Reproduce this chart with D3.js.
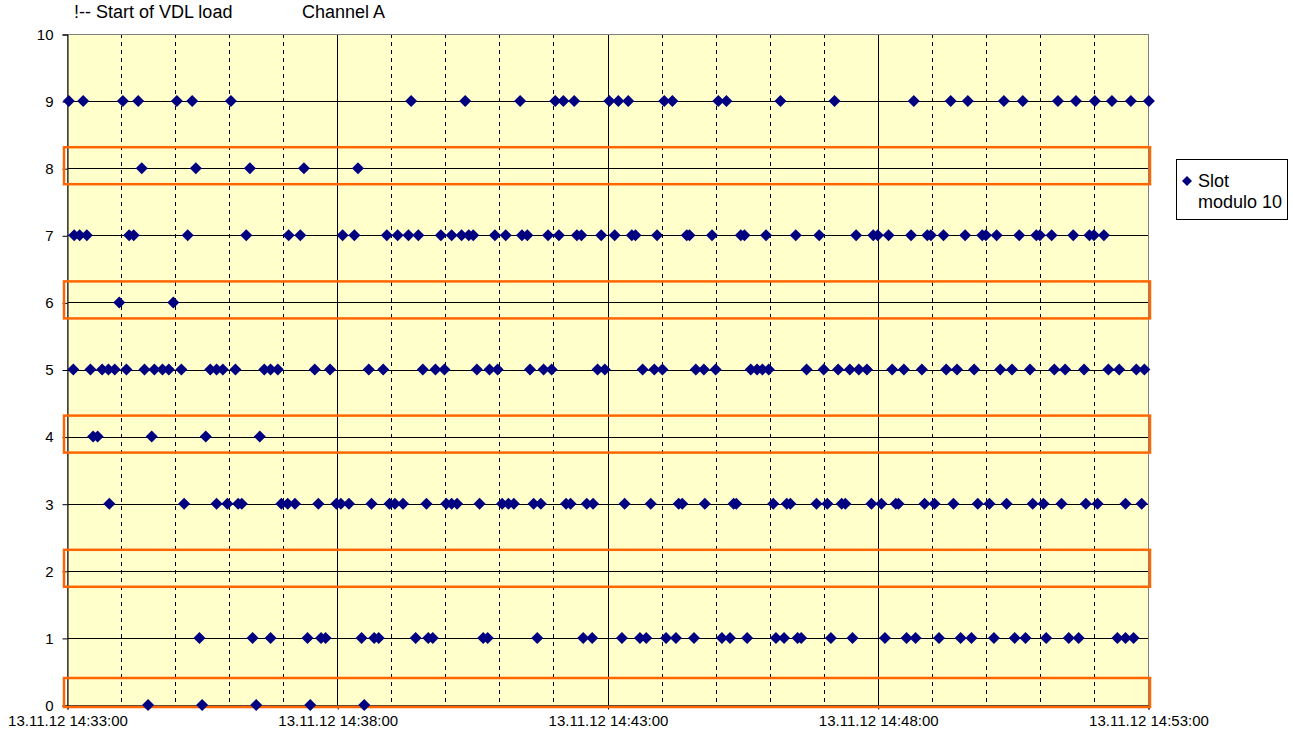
<!DOCTYPE html>
<html>
<head>
<meta charset="utf-8">
<script src="https://cdn.jsdelivr.net/npm/d3@7"></script>
<style>
  body { margin: 0; background: #fff; }
  text { font-family: "Liberation Sans", Arial, sans-serif; }
</style>
</head>
<body>
<div id="chart"></div>
<script>
// slot modulo 10 -> times (13.11.12) where that slot was used
const slot9 = ["14:33:02","14:33:18","14:34:02","14:34:19","14:35:02","14:35:19","14:36:02","14:39:22","14:40:22","14:41:23","14:42:02","14:42:11","14:42:23","14:43:02","14:43:12","14:43:23","14:44:03","14:44:12","14:45:03","14:45:12","14:46:12","14:47:12","14:48:40","14:49:21","14:49:40","14:50:20","14:50:41","14:51:20","14:51:40","14:52:01","14:52:20","14:52:41","14:53:01"];
const slot8 = ["14:34:23","14:35:23","14:36:23","14:37:23","14:38:23"];
const slot7 = ["14:33:08","14:33:14","14:33:22","14:34:09","14:34:14","14:35:14","14:36:19","14:37:06","14:37:19","14:38:06","14:38:19","14:38:55","14:39:07","14:39:19","14:39:30","14:39:55","14:40:07","14:40:18","14:40:26","14:40:31","14:40:55","14:41:07","14:41:25","14:41:31","14:41:54","14:42:06","14:42:26","14:42:31","14:42:53","14:43:08","14:43:27","14:43:31","14:43:55","14:44:28","14:44:31","14:44:56","14:45:28","14:45:32","14:45:56","14:46:29","14:46:55","14:47:36","14:47:55","14:48:00","14:48:12","14:48:37","14:48:55","14:48:59","14:49:13","14:49:37","14:49:56","14:50:00","14:50:12","14:50:37","14:50:56","14:51:00","14:51:13","14:51:37","14:51:55","14:52:00","14:52:11"];
const slot6 = ["14:33:58","14:34:58"];
const slot5 = ["14:33:07","14:33:26","14:33:39","14:33:46","14:33:53","14:34:06","14:34:26","14:34:37","14:34:46","14:34:53","14:35:07","14:35:39","14:35:46","14:35:53","14:36:07","14:36:39","14:36:46","14:36:54","14:37:35","14:37:52","14:38:35","14:38:51","14:39:35","14:39:49","14:39:59","14:40:35","14:40:49","14:40:58","14:41:34","14:41:49","14:41:58","14:42:49","14:42:57","14:43:39","14:43:52","14:44:01","14:44:38","14:44:47","14:45:00","14:45:39","14:45:46","14:45:52","14:45:59","14:46:41","14:47:00","14:47:16","14:47:29","14:47:39","14:47:48","14:48:16","14:48:29","14:48:49","14:49:16","14:49:28","14:49:47","14:50:16","14:50:29","14:50:49","14:51:16","14:51:28","14:51:49","14:52:16","14:52:28","14:52:47","14:52:56"];
const slot4 = ["14:33:29","14:33:34","14:34:34","14:35:34","14:36:34"];
const slot3 = ["14:33:47","14:35:10","14:35:46","14:35:58","14:36:10","14:36:14","14:36:58","14:37:05","14:37:13","14:37:39","14:37:59","14:38:04","14:38:13","14:38:38","14:38:58","14:39:04","14:39:13","14:39:39","14:40:01","14:40:07","14:40:13","14:40:38","14:41:03","14:41:10","14:41:16","14:41:38","14:41:46","14:42:14","14:42:19","14:42:37","14:42:44","14:43:19","14:43:48","14:44:19","14:44:23","14:44:48","14:45:20","14:45:23","14:46:04","14:46:19","14:46:23","14:46:52","14:47:04","14:47:20","14:47:24","14:47:53","14:48:04","14:48:20","14:48:23","14:48:52","14:49:03","14:49:24","14:49:51","14:50:04","14:50:23","14:50:52","14:51:04","14:51:24","14:51:51","14:52:04","14:52:35","14:52:53"];
const slot2 = [];
const slot1 = ["14:35:27","14:36:26","14:36:46","14:37:27","14:37:42","14:37:47","14:38:27","14:38:41","14:38:46","14:39:27","14:39:41","14:39:46","14:40:42","14:40:47","14:41:42","14:42:33","14:42:43","14:43:16","14:43:36","14:43:43","14:44:05","14:44:16","14:44:36","14:45:07","14:45:16","14:45:35","14:46:07","14:46:16","14:46:31","14:46:35","14:47:08","14:47:32","14:48:08","14:48:32","14:48:42","14:49:08","14:49:32","14:49:44","14:50:09","14:50:32","14:50:44","14:51:07","14:51:32","14:51:43","14:52:26","14:52:35","14:52:44"];
const slot0 = ["14:34:30","14:35:30","14:36:30","14:37:30","14:38:30"];

const slotSeries = [slot0, slot1, slot2, slot3, slot4, slot5, slot6, slot7, slot8, slot9];
const markedSlots = [0, 2, 4, 6, 8];
const xStart = "14:33:00", xEnd = "14:53:00";
const xLabelEvery = 5; // minutes
const yTicks = [0, 1, 2, 3, 4, 5, 6, 7, 8, 9, 10];
const day = "2012-11-13";
const titleText = "!-- Start of VDL load";
const channelText = "Channel A";
const legendLines = ["Slot", "modulo 10"];

const W = 1293, H = 738;
const plot = {left: 67, top: 34, right: 1148, bottom: 705};

const parse = d3.timeParse("%Y-%m-%d %H:%M:%S");
const t = s => parse(day + " " + s);
const fmt = d3.timeFormat("%d.%m.%y %H:%M:%S");

const x = d3.scaleTime().domain([t(xStart), t(xEnd)]).range([plot.left, plot.right]);
const y = d3.scaleLinear().domain([0, 10]).range([plot.bottom, plot.top]);

const points = [];
slotSeries.forEach((arr, slot) => arr.forEach(s => points.push({time: t(s), slot})));

const svg = d3.select("#chart").append("svg")
  .attr("width", W).attr("height", H);

svg.append("rect").attr("width", W).attr("height", H).attr("fill", "#fff");

// plot background
svg.append("rect")
  .attr("x", plot.left).attr("y", plot.top)
  .attr("width", plot.right - plot.left).attr("height", plot.bottom - plot.top)
  .attr("fill", "#FFFFCC");

// vertical grid: every minute dashed, every 5 minutes (from start) solid
const nMin = (t(xEnd) - t(xStart)) / 60000;
const minuteIdx = d3.range(1, nMin);
svg.append("g").selectAll("line")
  .data(minuteIdx)
  .join("line")
  .attr("x1", d => Math.round(x(d3.timeMinute.offset(t(xStart), d))) + 0.5)
  .attr("x2", d => Math.round(x(d3.timeMinute.offset(t(xStart), d))) + 0.5)
  .attr("y1", plot.top).attr("y2", plot.bottom)
  .attr("stroke", "#000")
  .attr("stroke-width", 1)
  .attr("stroke-dasharray", d => d % xLabelEvery === 0 ? null : "4,4");

// horizontal grid
svg.append("g").selectAll("line")
  .data(yTicks.filter(v => v > 0 && v < 10))
  .join("line")
  .attr("x1", plot.left).attr("x2", plot.right)
  .attr("y1", d => Math.round(y(d)) + 0.5).attr("y2", d => Math.round(y(d)) + 0.5)
  .attr("stroke", "#000").attr("stroke-width", 1);

// plot border
svg.append("rect")
  .attr("x", plot.left + 0.5).attr("y", plot.top + 0.5)
  .attr("width", plot.right - plot.left).attr("height", plot.bottom - plot.top)
  .attr("fill", "none").attr("stroke", "#808080").attr("stroke-width", 1);

// y axis
const yAxis = d3.axisLeft(y).tickValues(yTicks).tickSize(5).tickPadding(9).tickFormat(d3.format("d"));
const gy = svg.append("g").attr("transform", `translate(${plot.left + 0.5},0.5)`).call(yAxis);
gy.select(".domain").attr("stroke", "#000");
gy.selectAll(".tick line").attr("stroke", "#000");
gy.selectAll(".tick text").attr("font-size", 15).attr("fill", "#000")
  .attr("font-family", "Liberation Sans, Arial, sans-serif");

// x axis
const xTickVals = d3.range(0, nMin + 1, xLabelEvery).map(m => d3.timeMinute.offset(t(xStart), m));
const xAxis = d3.axisBottom(x)
  .tickValues(xTickVals)
  .tickSize(4).tickPadding(6).tickFormat(fmt);
const gx = svg.append("g").attr("transform", `translate(0.5,${plot.bottom + 0.5})`).call(xAxis);
gx.select(".domain").attr("stroke", "#000");
gx.selectAll(".tick line").attr("stroke", "#000");
gx.selectAll(".tick text").attr("font-size", 15).attr("fill", "#000")
  .attr("font-family", "Liberation Sans, Arial, sans-serif");

// orange highlight boxes
svg.append("g").selectAll("rect")
  .data(markedSlots)
  .join("rect")
  .attr("x", plot.left - 3).attr("width", plot.right - plot.left + 5)
  .attr("y", d => d === 0 ? y(d) - 27 : y(d) - 21)
  .attr("height", d => d === 0 ? 29 : 37)
  .attr("fill", "none").attr("stroke", "#FF6600").attr("stroke-width", 2.5);

// markers
const diamond = "M0,-6L6,0L0,6L-6,0Z";
svg.append("g").selectAll("path")
  .data(points)
  .join("path")
  .attr("d", diamond)
  .attr("transform", d => `translate(${x(d.time)},${y(d.slot)})`)
  .attr("fill", "#000080");

// top texts
svg.append("text").attr("x", 74).attr("y", 18).attr("font-size", 18).text(titleText);
svg.append("text").attr("x", 302).attr("y", 18).attr("font-size", 18).text(channelText);

// legend
const lg = svg.append("g");
lg.append("rect").attr("x", 1176.5).attr("y", 159.5).attr("width", 111).attr("height", 60)
  .attr("fill", "#fff").attr("stroke", "#000");
lg.append("path").attr("d", "M0,-5L5,0L0,5L-5,0Z").attr("transform", "translate(1187,181)").attr("fill", "#000080");
lg.selectAll("text.l").data(legendLines).join("text")
  .attr("class", "l")
  .attr("x", 1198).attr("y", (d, i) => 187 + i * 21)
  .attr("font-size", 18).text(d => d);
</script>
</body>
</html>
